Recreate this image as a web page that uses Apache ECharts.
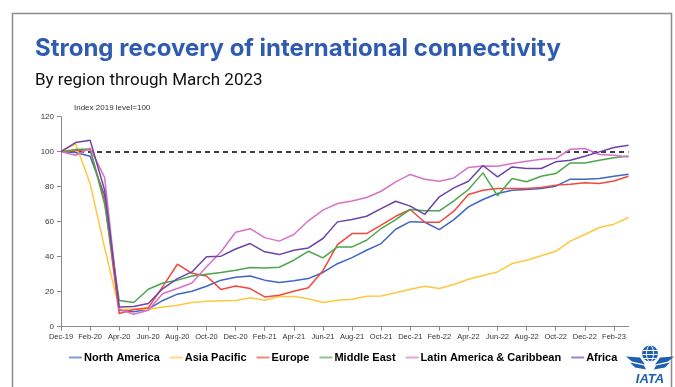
<!DOCTYPE html>
<html>
<head>
<meta charset="utf-8">
<script src="https://cdn.jsdelivr.net/npm/echarts@6/dist/echarts.min.js"></script>
<style>
  html, body { margin: 0; padding: 0; background: #ffffff; }
  #chart { width: 675px; height: 387px; }
</style>
</head>
<body>
<div id="chart"></div>
<script>
// Monthly categories, Dec-19 through Mar-23
const months = [
  'Dec-19','Jan-20','Feb-20','Mar-20','Apr-20','May-20','Jun-20','Jul-20','Aug-20','Sep-20',
  'Oct-20','Nov-20','Dec-20','Jan-21','Feb-21','Mar-21','Apr-21','May-21','Jun-21','Jul-21',
  'Aug-21','Sep-21','Oct-21','Nov-21','Dec-21','Jan-22','Feb-22','Mar-22','Apr-22','May-22',
  'Jun-22','Jul-22','Aug-22','Sep-22','Oct-22','Nov-22','Dec-22','Jan-23','Feb-23','Mar-23'
];

// Connectivity index by region (2019 level = 100)
const northAmerica = [
  100, 99.5, 97.4, 75, 9.4, 8.5, 10, 15, 18.6, 20.3,
  23.1, 26.6, 28.3, 29, 26.6, 25.2, 26.2, 27.5, 31, 36,
  39.5, 43.7, 47.5, 55.7, 60, 59.7, 55.5, 61.2, 68.5, 72.7,
  76.1, 78, 78.4, 79, 80.3, 84.3, 84.3, 84.7, 86, 87.1
];
const asiaPacific = [
  100, 104.5, 81.8, 45, 10, 10, 9.8, 11.3, 12.3, 13.8,
  14.5, 14.8, 15, 16.5, 15.1, 17.2, 17.3, 16, 13.8, 15.1,
  15.7, 17.4, 17.6, 19.4, 21.4, 23.1, 21.8, 24.1, 27.1, 29.2,
  31.3, 36.1, 38, 40.5, 43.1, 48.9, 52.7, 56.7, 58.6, 62.4
];
const europe = [
  100, 100.5, 101.2, 72, 7.5, 9.8, 10.8, 23, 35.7, 30.5,
  29, 21.2, 23.3, 21.8, 17, 18, 20.3, 22.2, 32, 46.9,
  53.2, 53.2, 58, 63.1, 67, 59.7, 59.7, 66, 75.5, 78,
  79, 79, 79, 79.5, 80.9, 81.4, 82.2, 81.8, 83.3, 86
];
const middleEast = [
  100, 101.2, 101.6, 70, 15, 13.8, 21.4, 25, 26.6, 29,
  30, 31, 32.3, 33.8, 33.6, 34, 38, 43.1, 39.3, 45.6,
  45.6, 49.4, 56.1, 61.2, 67, 66.2, 66.2, 71.9, 78.4, 87.9,
  74.8, 84.7, 82.8, 86, 87.5, 93.6, 93.6, 95.1, 96.5, 97.6
];
const latinAmerica = [
  100, 98, 102, 85.2, 10, 7.1, 9.4, 19, 21.8, 25,
  34.2, 42.8, 54, 56, 50.9, 48.9, 52.7, 60.5, 66.6, 70.4,
  71.8, 73.8, 77.4, 82.8, 87, 84.3, 83.1, 85, 91, 91.8,
  91.7, 93.2, 94.6, 95.7, 96.1, 101.4, 101.8, 98.4, 98, 97
];
const africa = [
  100, 105.2, 106.6, 78, 11.3, 11.5, 13.2, 21.8, 27.5, 31.3,
  40, 40.3, 44.4, 47.5, 42.8, 41.2, 43.7, 45, 50.4, 59.9,
  61.3, 63.1, 67.5, 71.7, 68.9, 64.2, 74.2, 79.3, 83.1, 92.1,
  85.6, 91.3, 90.4, 90.4, 94.2, 95.1, 97.4, 99.9, 102.4, 103.7
];

const regionNames = ['North America', 'Asia Pacific', 'Europe', 'Middle East', 'Latin America & Caribbean', 'Africa'];
const regionValues = [northAmerica, asiaPacific, europe, middleEast, latinAmerica, africa];
const regionColors = ['#3F66C2', '#FFC73F', '#F4473D', '#4BA64E', '#D672C6', '#6C44A6'];

// Y-axis scale (index points)
const yMin = 0, yMax = 120, yStep = 20;
const baseline = 100;

const chart = echarts.init(document.getElementById('chart'), null, { renderer: 'canvas' });

const series = regionNames.map((name, k) => ({
  name,
  type: 'line',
  data: regionValues[k],
  symbol: 'none',
  showSymbol: false,
  smooth: false,
  z: 3,
  lineStyle: { color: regionColors[k], width: 1.5 },
  itemStyle: { color: regionColors[k] },
  emphasis: { disabled: true }
}));

// dashed 2019 reference level
series[0].markLine = {
  silent: true,
  symbol: ['none', 'none'],
  label: { show: false },
  lineStyle: { color: '#000000', type: [5, 4], width: 1.6 },
  data: [{ yAxis: baseline }],
  z: 2
};

chart.setOption({
  animation: false,
  backgroundColor: '#ffffff',
  textStyle: { fontFamily: 'Liberation Sans, Arial, sans-serif' },
  title: [
    {
      text: 'Strong recovery of international connectivity',
      left: 30, top: 32,
      textStyle: { fontFamily: 'Inter, Roboto, sans-serif', fontSize: 24, fontWeight: 'bold', color: '#2F5BB0' }
    },
    {
      text: 'By region through March 2023',
      left: 30, top: 67,
      textStyle: { fontFamily: 'Roboto, Liberation Sans, sans-serif', fontSize: 17, fontWeight: 'normal', color: '#111111' }
    },
    {
      text: 'Index 2019 level=100',
      left: 69, top: 99,
      textStyle: { fontFamily: 'Liberation Sans, Arial, sans-serif', fontSize: 8, fontWeight: 'normal', color: '#333333' }
    }
  ],
  legend: {
    data: regionNames,
    left: 64, top: 347,
    icon: 'rect',
    itemWidth: 13, itemHeight: 2,
    itemGap: 10,
    itemStyle: { opacity: 0.65 },
    textStyle: { fontFamily: 'Liberation Sans, Arial, sans-serif', fontSize: 11, fontWeight: 'bold', color: '#000000', padding: [0, 0, 0, -3] }
  },
  grid: { left: 61, right: 46.5, top: 116.7, bottom: 60.3, containLabel: false },
  xAxis: {
    type: 'category',
    data: months,
    boundaryGap: false,
    axisLine: { lineStyle: { color: '#8a8a8a', width: 1 } },
    axisTick: { show: true, interval: 1, length: 4, lineStyle: { color: '#8a8a8a' } },
    axisLabel: { interval: 1, fontSize: 7.5, color: '#333333', margin: 6 },
    splitLine: { show: false }
  },
  yAxis: {
    type: 'value',
    min: yMin, max: yMax, interval: yStep,
    axisLine: { show: true, lineStyle: { color: '#8a8a8a', width: 1 } },
    axisTick: { show: true, length: 4, lineStyle: { color: '#8a8a8a' } },
    axisLabel: { fontSize: 8, color: '#333333', margin: 7 },
    splitLine: { show: false }
  },
  series,
  graphic: [
    // page frame
    {
      type: 'rect', silent: true, z: 0,
      shape: { x: 12.5, y: 13.5, width: 659, height: 420 },
      style: { fill: 'none', stroke: '#8c8c8c', lineWidth: 1.5 }
    },
    // IATA emblem: globe, wings and lettering
    {
      type: 'group', silent: true, left: 626, top: 343,
      children: [
        { type: 'circle', shape: { cx: 24, cy: 10, r: 8 }, style: { fill: '#1E5FAE' } },
        { type: 'line', shape: { x1: 17, y1: 7, x2: 31, y2: 7 }, style: { stroke: '#ffffff', lineWidth: 1 } },
        { type: 'line', shape: { x1: 16.5, y1: 11, x2: 31.5, y2: 11 }, style: { stroke: '#ffffff', lineWidth: 1 } },
        { type: 'line', shape: { x1: 18, y1: 15, x2: 30, y2: 15 }, style: { stroke: '#ffffff', lineWidth: 1 } },
        { type: 'ellipse', shape: { cx: 24, cy: 10, rx: 3.5, ry: 8 }, style: { fill: 'none', stroke: '#ffffff', lineWidth: 1 } },
        { type: 'polygon', shape: { points: [[0, 13], [14, 14], [19, 21], [6, 18]] }, style: { fill: '#1E5FAE' } },
        { type: 'polygon', shape: { points: [[48, 13], [34, 14], [29, 21], [42, 18]] }, style: { fill: '#1E5FAE' } },
        { type: 'polygon', shape: { points: [[4, 19], [18, 22], [20, 26], [9, 24]] }, style: { fill: '#1E5FAE' } },
        { type: 'polygon', shape: { points: [[44, 19], [30, 22], [28, 26], [39, 24]] }, style: { fill: '#1E5FAE' } },
        {
          type: 'text', style: {
            text: 'IATA', x: 24, y: 36, align: 'center', verticalAlign: 'middle',
            font: 'italic bold 13px "Liberation Sans", Arial, sans-serif', fill: '#1E5FAE'
          }
        }
      ]
    }
  ]
});
</script>
</body>
</html>
